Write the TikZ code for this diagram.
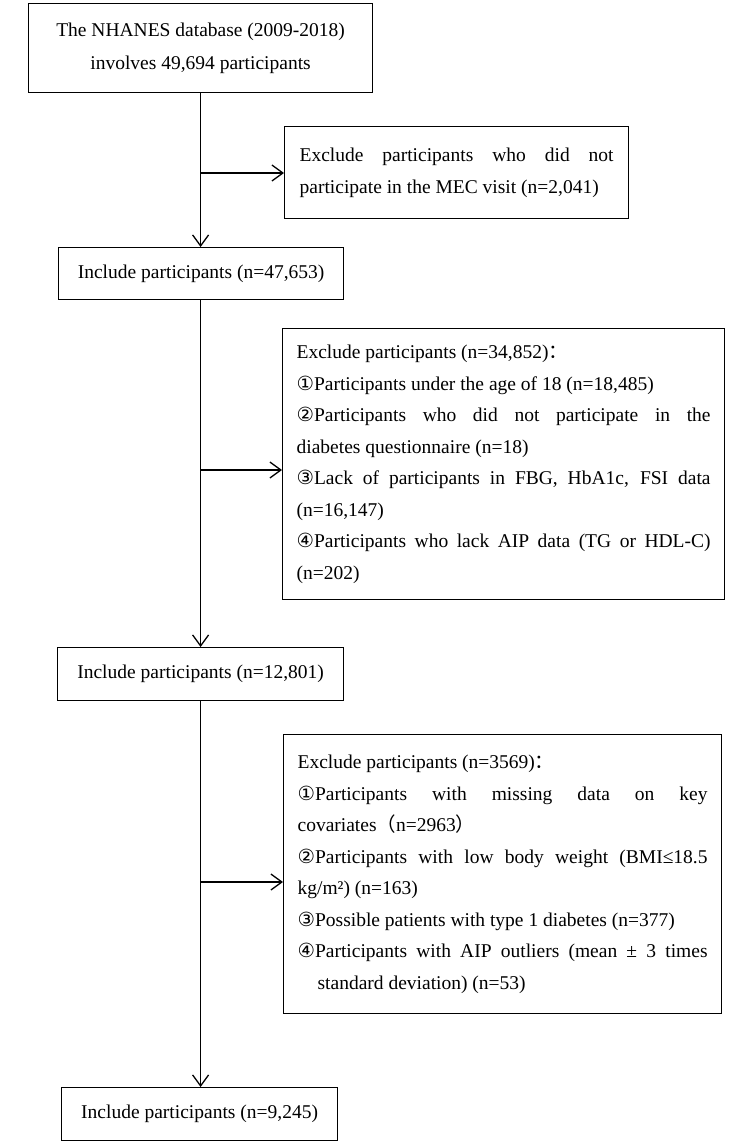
\documentclass[tikz,border=0pt]{standalone}
\usepackage{fontspec}
\setmainfont{Liberation Serif}
\newfontfamily\symf{DejaVu Sans}
\newfontfamily\cjk{Noto Sans CJK SC}
\usepackage{tikz}
\usetikzlibrary{arrows.meta,positioning}
\hyphenpenalty=10000
\exhyphenpenalty=10000

\begin{document}
\begin{tikzpicture}[x=1pt, y=-1pt,
  font=\fontsize{19.5}{31.5}\selectfont,
  box/.style={draw, line width=1.2pt, anchor=north west, inner ysep=0pt},
  arr/.style={-{Straight Barb[length=11pt,width=16pt,line width=1.3pt]}, line width=1.3pt}]
  \useasboundingbox (0,0) rectangle (744,1144);
  % Database box
  \node[box, minimum width=344, minimum height=89, align=center] (db) at (28,3)
    {The NHANES database (2009-2018)\\[1.5pt]involves 49,694 participants};
  % MEC exclusion
  \node[box, text width=314, inner xsep=15, minimum height=92, align=justify] (mec) at (284,126)
    {Exclude participants who did not\linebreak participate in the MEC visit (n=2,041)};
  % Include 1
  \node[box, minimum width=285, minimum height=52, align=center] (inca) at (58,247)
    {Include participants (n=47,653)};
  % Exclusion 2
  \node[box, text width=414, inner xsep=14, minimum height=271, align=justify] (exa) at (282,328)
    {Exclude participants (n=34,852){\cjk ：}\par
     {\symf ①}Participants under the age of 18 (n=18,485)\par
     {\symf ②}Participants who did not participate in the\linebreak diabetes questionnaire (n=18)\par
     {\symf ③}Lack of participants in FBG, HbA1c, FSI data\linebreak (n=16,147)\par
     {\symf ④}Participants who lack AIP data (TG or HDL-C)\linebreak (n=202)};
  % Include 2
  \node[box, minimum width=286, minimum height=53, align=center] (incb) at (57,647)
    {Include participants (n=12,801)};
  % Exclusion 3
  \node[box, text width=410, inner xsep=14, minimum height=279, align=justify] (exb) at (283,734)
    {Exclude participants (n=3569){\cjk ：}\par
     {\symf ①}Participants with missing data on key\linebreak covariates{\cjk （}n=2963{\cjk ）}\par
     {\symf ②}Participants with low body weight (BMI≤18.5\linebreak kg/m²) (n=163)\par
     {\symf ③}Possible patients with type 1 diabetes (n=377)\par
     {\hangindent=20pt\hangafter=1 {\symf ④}Participants with AIP outliers (mean ± 3 times\linebreak standard deviation) (n=53)\par}};
  % Final sample
  \node[box, minimum width=276, minimum height=53, align=center] (incc) at (61,1087)
    {Include participants (n=9,245)};
  % Flow
  \coordinate (ja) at (200,173);
  \coordinate (jb) at (200,470);
  \coordinate (jc) at (200,882);
  \draw[arr] (db.south) -- (db.south |- inca.north);
  \draw[arr] (ja) -- (ja -| mec.west);
  \draw[arr] (db.south |- inca.south) -- (db.south |- incb.north);
  \draw[arr] (jb) -- (jb -| exa.west);
  \draw[arr] (db.south |- incb.south) -- (db.south |- incc.north);
  \draw[arr] (jc) -- (jc -| exb.west);
\end{tikzpicture}
\end{document}
